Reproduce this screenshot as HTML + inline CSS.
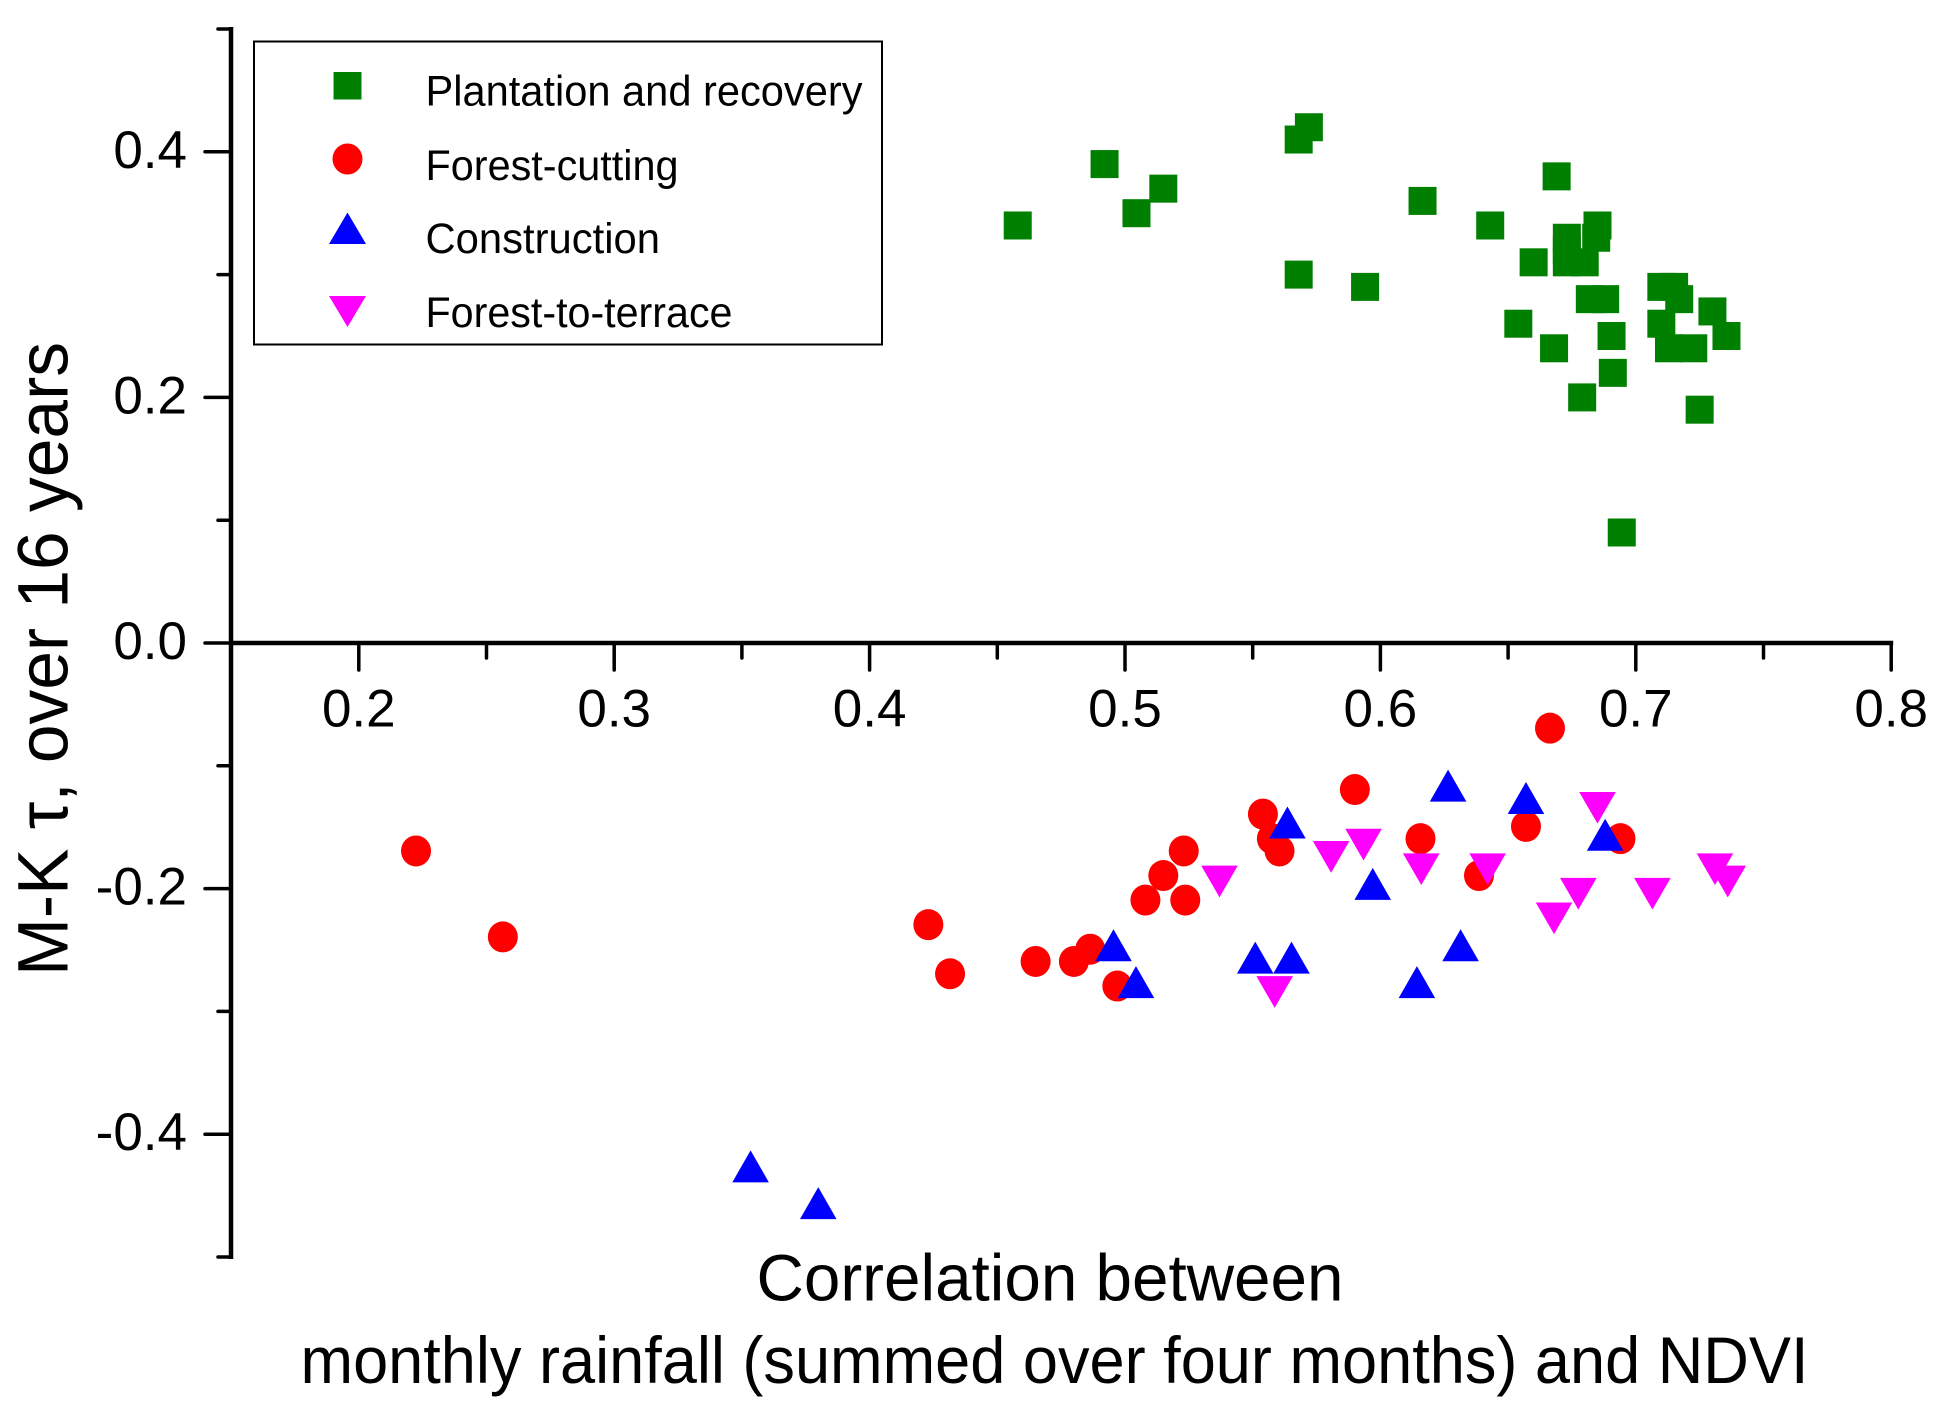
<!DOCTYPE html>
<html lang="en">
<head>
<meta charset="utf-8">
<title>M-K tau versus rainfall-NDVI correlation</title>
<style>
html,body{margin:0;padding:0;background:#fff;}
svg{display:block;font-family:"Liberation Sans",Arial,"DejaVu Sans",sans-serif;}
</style>
</head>
<body>
<svg id="chart" xmlns="http://www.w3.org/2000/svg" width="1955" height="1419" viewBox="0 0 1955 1419">
  <rect x="0" y="0" width="1955" height="1419" fill="#ffffff"/>
  <g id="axes"></g>
  <g id="marks"></g>
  <g>
    <rect x="254" y="41.5" width="628" height="303" fill="#ffffff" stroke="#000" stroke-width="2"/>
    <rect x="333.5" y="72" width="28" height="27.5" fill="#008000"/>
    <text x="425.5" y="105.5" font-size="43" textLength="437" lengthAdjust="spacingAndGlyphs">Plantation and recovery</text>
    <ellipse cx="347.5" cy="159" rx="15" ry="15.5" fill="#ff0000"/>
    <text x="425.5" y="180" font-size="43" textLength="253" lengthAdjust="spacingAndGlyphs">Forest-cutting</text>
    <polygon points="347.5,212.5 329,244 366,244" fill="#0000ff"/>
    <text x="425.5" y="253" font-size="43" textLength="234.5" lengthAdjust="spacingAndGlyphs">Construction</text>
    <polygon points="329,296 366,296 347.5,327" fill="#ff00ff"/>
    <text x="425.5" y="327" font-size="43" textLength="307" lengthAdjust="spacingAndGlyphs">Forest-to-terrace</text>
  </g>
  <text x="756.5" y="1300.5" font-size="66" textLength="587" lengthAdjust="spacingAndGlyphs">Correlation between</text>
  <text x="300.5" y="1383" font-size="66" textLength="1508" lengthAdjust="spacingAndGlyphs">monthly rainfall (summed over four months) and NDVI</text>
  <text transform="translate(67.5 976) rotate(-90)" x="0" y="0" font-size="71" textLength="634" lengthAdjust="spacingAndGlyphs">M-K τ, over 16 years</text>
</svg>
<script>
var xMajorTicks = [0.2, 0.3, 0.4, 0.5, 0.6, 0.7, 0.8];
var xMinorTicks = [0.25, 0.35, 0.45, 0.55, 0.65, 0.75];
var xTickLabels = ["0.2", "0.3", "0.4", "0.5", "0.6", "0.7", "0.8"];
var yMajorTicks = [0.4, 0.2, 0, -0.2, -0.4];
var yMinorTicks = [0.5, 0.3, 0.1, -0.1, -0.3, -0.5];
var yTickLabels = ["0.4", "0.2", "0.0", "-0.2", "-0.4"];

var plantationX = [0.458,0.492,0.515,0.5045,0.572,0.568,0.568,0.594,0.6165,0.643,0.669,0.660,0.654,0.668,0.673,0.673,0.673,0.680,0.685,0.6845,0.682,0.688,0.6905,0.691,0.679,0.6945,0.710,0.715,0.717,0.710,0.713,0.7225,0.730,0.7355,0.725];
var plantationY = [0.34,0.39,0.37,0.35,0.42,0.41,0.30,0.29,0.36,0.34,0.38,0.31,0.26,0.24,0.33,0.32,0.31,0.31,0.34,0.33,0.28,0.28,0.25,0.22,0.20,0.09,0.29,0.29,0.28,0.26,0.24,0.24,0.27,0.25,0.19];

var cuttingX = [0.2224,0.2564,0.423,0.4315,0.465,0.48,0.4864,0.497,0.508,0.5236,0.515,0.523,0.554,0.5575,0.5605,0.590,0.6157,0.6386,0.657,0.6664,0.694];
var cuttingY = [-0.17,-0.24,-0.23,-0.27,-0.26,-0.26,-0.25,-0.28,-0.21,-0.21,-0.19,-0.17,-0.14,-0.16,-0.17,-0.12,-0.16,-0.19,-0.15,-0.07,-0.16];

var constructionX = [0.3534,0.3799,0.4955,0.5043,0.551,0.5652,0.5636,0.597,0.6143,0.6265,0.6314,0.657,0.688];
var constructionY = [-0.43,-0.46,-0.25,-0.28,-0.26,-0.26,-0.15,-0.20,-0.28,-0.12,-0.25,-0.13,-0.16];

var terraceX = [0.537,0.5586,0.5807,0.5934,0.616,0.642,0.668,0.6775,0.685,0.7065,0.731,0.736];
var terraceY = [-0.19,-0.28,-0.17,-0.16,-0.18,-0.18,-0.22,-0.20,-0.13,-0.20,-0.18,-0.19];

var NS = "http://www.w3.org/2000/svg";
function xScale(v) { return 358.8 + (v - 0.2) * 2554; }
function yScale(v) { return 643 - v * 1228; }

function make(tag, attrs, parent) {
  var el = document.createElementNS(NS, tag);
  for (var k in attrs) { el.setAttribute(k, attrs[k]); }
  parent.appendChild(el);
  return el;
}

var axes = document.getElementById("axes");
var marks = document.getElementById("marks");

var yAxisLine = make("line", {x1: 231, x2: 231, y1: yScale(0.5) - 2, y2: yScale(-0.5) + 2, stroke: "#000", "stroke-width": 4.5}, axes);


var xAxisLine = make("line", {x1: 229, x2: xScale(0.8) + 2, y1: yScale(0), y2: yScale(0), stroke: "#000", "stroke-width": 4.5}, axes);



xMajorTicks.forEach(function (v, i) {
  var t = make("line", {x1: xScale(v), x2: xScale(v), y1: yScale(0), y2: yScale(0) + 27, stroke: "#000", "stroke-width": 3.5, "stroke-linecap": "round"}, axes);
  
  
  var lbl = make("text", {x: xScale(v), y: 726.5, "font-size": 53, "text-anchor": "middle"}, axes);
  lbl.textContent = xTickLabels[i];
  
  
});
xMinorTicks.forEach(function (v) {
  var t = make("line", {x1: xScale(v), x2: xScale(v), y1: yScale(0), y2: yScale(0) + 15, stroke: "#000", "stroke-width": 3.5, "stroke-linecap": "round"}, axes);
  
  
});
yMajorTicks.forEach(function (v, i) {
  var t = make("line", {x1: 205, x2: 231, y1: yScale(v), y2: yScale(v), stroke: "#000", "stroke-width": 3.5, "stroke-linecap": "round"}, axes);
  
  
  var lbl = make("text", {x: 187, y: yScale(v) + 16, "font-size": 53, "text-anchor": "end"}, axes);
  lbl.textContent = yTickLabels[i];
  
  
});
yMinorTicks.forEach(function (v) {
  var t = make("line", {x1: 218, x2: 231, y1: yScale(v), y2: yScale(v), stroke: "#000", "stroke-width": 3.5, "stroke-linecap": "round"}, axes);
  
  
});

plantationX.forEach(function (v, i) {
  var m = make("rect", {x: xScale(v) - 14, y: yScale(plantationY[i]) - 14, width: 28, height: 28, fill: "#008000"}, marks);
  
  
});
cuttingX.forEach(function (v, i) {
  var m = make("ellipse", {cx: xScale(v), cy: yScale(cuttingY[i]) - 0.8, rx: 15, ry: 15.5, fill: "#ff0000"}, marks);
  
  
});
constructionX.forEach(function (v, i) {
  var cx = xScale(v), cy = yScale(constructionY[i]);
  var m = make("polygon", {points: cx + "," + (cy - 20.7) + " " + (cx - 18.3) + "," + (cy + 11.3) + " " + (cx + 18.3) + "," + (cy + 11.3), fill: "#0000ff"}, marks);
  
  
});
terraceX.forEach(function (v, i) {
  var cx = xScale(v), cy = yScale(terraceY[i]);
  var m = make("polygon", {points: (cx - 18.3) + "," + (cy - 10.7) + " " + (cx + 18.3) + "," + (cy - 10.7) + " " + cx + "," + (cy + 21), fill: "#ff00ff"}, marks);
  
  
});
</script>
</body>
</html>
